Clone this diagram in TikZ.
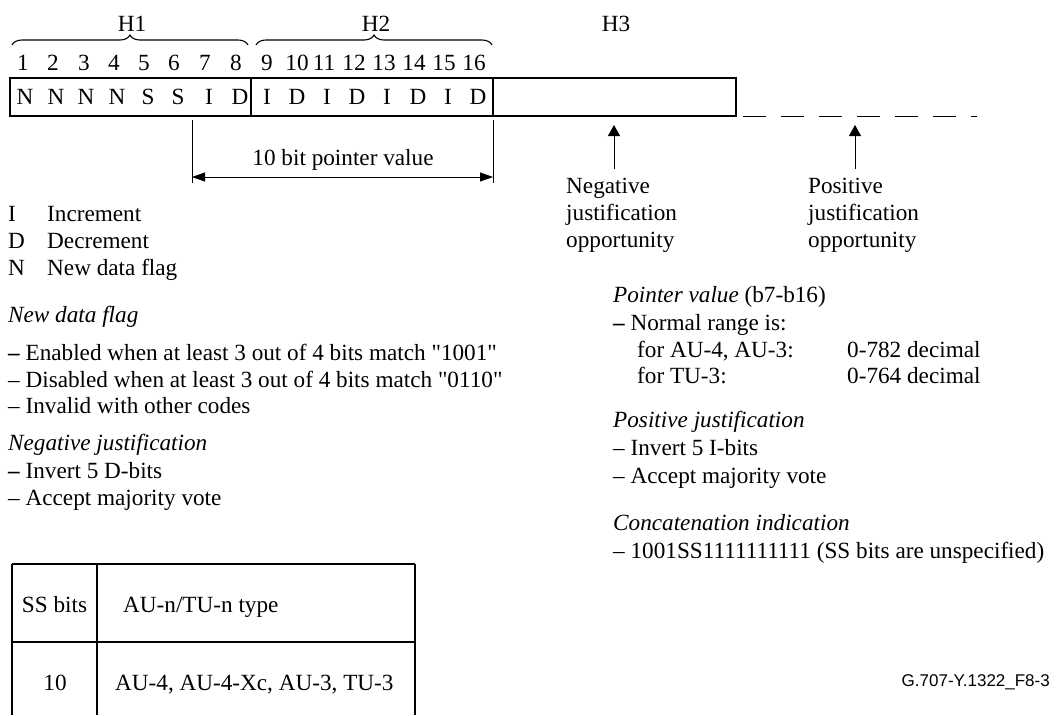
\documentclass[tikz,border=0pt]{standalone}
\usepackage{fontspec}
\setmainfont{Liberation Serif}
\newfontfamily\rawserif{Liberation Serif}
\newfontfamily\labelfont{Liberation Sans}
\newcommand{\sq}{{\rawserif"}}
\newcommand{\bdash}{{\rawserif\bfseries –}}
\usetikzlibrary{arrows.meta,decorations.pathreplacing}
\begin{document}
\begin{tikzpicture}[x=1pt,y=-1pt,
  txt/.style={anchor=base west,inner sep=0pt,font=\fontsize{23.2}{27}\selectfont},
  ctxt/.style={anchor=base,inner sep=0pt,font=\fontsize{23.2}{27}\selectfont},
  frame/.style={line width=1.1pt},
  thin/.style={line width=0.8pt},
  brc/.style={line width=1.1pt,decorate,decoration={brace,amplitude=10pt}},
  dimarrow/.style={line width=0.8pt,{Triangle[length=13pt,width=9pt]}-{Triangle[length=13pt,width=9pt]}},
  uparrow/.style={line width=0.8pt,-{Triangle[length=11pt,width=12pt]}}
]
\useasboundingbox (0,0) rectangle (1063,715);

% H labels and braces
\node[ctxt] (h1) at (132,31) {H1};
\node[ctxt] (h2) at (376,31) {H2};
\node[ctxt] (h3) at (616,31) {H3};
\coordinate (b1l) at (12,45); \coordinate (b1r) at (248,45);
\coordinate (b2l) at (256,45); \coordinate (b2r) at (492,45);
\draw[brc] (b1l) -- (b1r);
\draw[brc] (b2l) -- (b2r);

% bit numbers
\foreach \n/\x in {1/23,2/53,3/84,4/114,5/144,6/174,7/205,8/236,9/267,10/297,11/324,12/354,13/384,14/414,15/444,16/474}
  \node[ctxt] (d\n) at (\x,70) {\n};

% box
\draw[frame] (10,78) rectangle (736,116);
\draw[frame] (251,78) -- (251,116);
\draw[frame] (493,78) -- (493,116);
\foreach \l/\x [count=\i] in {N/25,N/56,N/86,N/117,S/148,S/178,I/209,D/240,I/267,D/297,I/327,D/357,I/387,D/418,I/448,D/478}
  \node[ctxt] (c\i) at (\x,104) {\l};

% dashed continuation
\coordinate (dash0) at (743,116); \coordinate (dash1) at (977,116);
\draw[thin,dash pattern=on 23pt off 15pt] (dash0) -- (dash1);

% pointer dimension
\coordinate (pl0) at (192,120); \coordinate (pl1) at (192,183);
\coordinate (pr0) at (493,120); \coordinate (pr1) at (493,183);
\draw[thin] (pl0) -- (pl1);
\draw[thin] (pr0) -- (pr1);
\coordinate (pa) at (192,177); \coordinate (pb) at (493,177);
\draw[dimarrow] (pa) -- (pb);
\node[ctxt] (ptr) at (343,165) {10 bit pointer value};

% justification arrows
\coordinate (na0) at (614,169); \coordinate (na1) at (614,125);
\coordinate (pa0) at (855,169); \coordinate (pa1) at (855,125);
\draw[uparrow] (na0) -- (na1);
\draw[uparrow] (pa0) -- (pa1);
\node[txt] (neg1) at (566,193) {Negative};
\node[txt] (neg2) at (566,220) {justification};
\node[txt] (neg3) at (566,247) {opportunity};
\node[txt] (pos1) at (808,193) {Positive};
\node[txt] (pos2) at (808,220) {justification};
\node[txt] (pos3) at (808,247) {opportunity};

% legend
\node[txt] (li) at (8,221) {I};   \node[txt] (lit) at (47,221) {Increment};
\node[txt] (ld) at (8,248) {D};   \node[txt] (ldt) at (47,248) {Decrement};
\node[txt] (ln) at (8,275) {N};   \node[txt] (lnt) at (47,275) {New data flag};

% left notes
\node[txt] (ndf) at (8,322) {\itshape New data flag};
\node[txt] (ndf1) at (8,360) {\bdash{} Enabled when at least 3 out of 4 bits match \sq1001\sq};
\node[txt] (ndf2) at (8,387) {– Disabled when at least 3 out of 4 bits match \sq0110\sq};
\node[txt] (ndf3) at (8,413) {– Invalid with other codes};
\node[txt] (nj) at (8,450) {\itshape Negative justification};
\node[txt] (nj1) at (8,478) {\bdash{} Invert 5 D-bits};
\node[txt] (nj2) at (8,505) {– Accept majority vote};

% right notes
\node[txt] (pv) at (613,302) {\textit{Pointer value} (b7-b16)};
\node[txt] (pv1) at (613,330) {\bdash{} Normal range is:};
\node[txt] (pv2) at (637,357) {for AU-4, AU-3:};
\node[txt] (pv2b) at (847,357) {0-782 decimal};
\node[txt] (pv3) at (637,383) {for TU-3:};
\node[txt] (pv3b) at (847,383) {0-764 decimal};
\node[txt] (pj) at (613,427) {\itshape Positive justification};
\node[txt] (pj1) at (613,455) {– Invert 5 I-bits};
\node[txt] (pj2) at (613,483) {– Accept majority vote};
\node[txt] (ci) at (613,530) {\itshape Concatenation indication};
\node[txt] (ci1) at (613,558) {– 1001SS1111111111 (SS bits are unspecified)};

% table
\draw[frame] (12,564) -- (415,564);
\draw[frame] (12,642) -- (415,642);
\draw[frame] (12,564) -- (12,715);
\draw[frame] (97,564) -- (97,715);
\draw[frame] (415,564) -- (415,715);
\node[ctxt] (t11) at (54.5,612) {SS bits};
\node[txt] (t12) at (123,612) {AU-n/TU-n type};
\node[ctxt] (t21) at (55,690) {10};
\node[txt] (t22) at (115,690) {AU-4, AU-4-Xc, AU-3, TU-3};

% figure label
\node[anchor=base east,inner sep=0pt,font=\labelfont\fontsize{17}{20}\selectfont] (fig) at (1050,686) {G.707-Y.1322\_F8-3};
\end{tikzpicture}
\end{document}
